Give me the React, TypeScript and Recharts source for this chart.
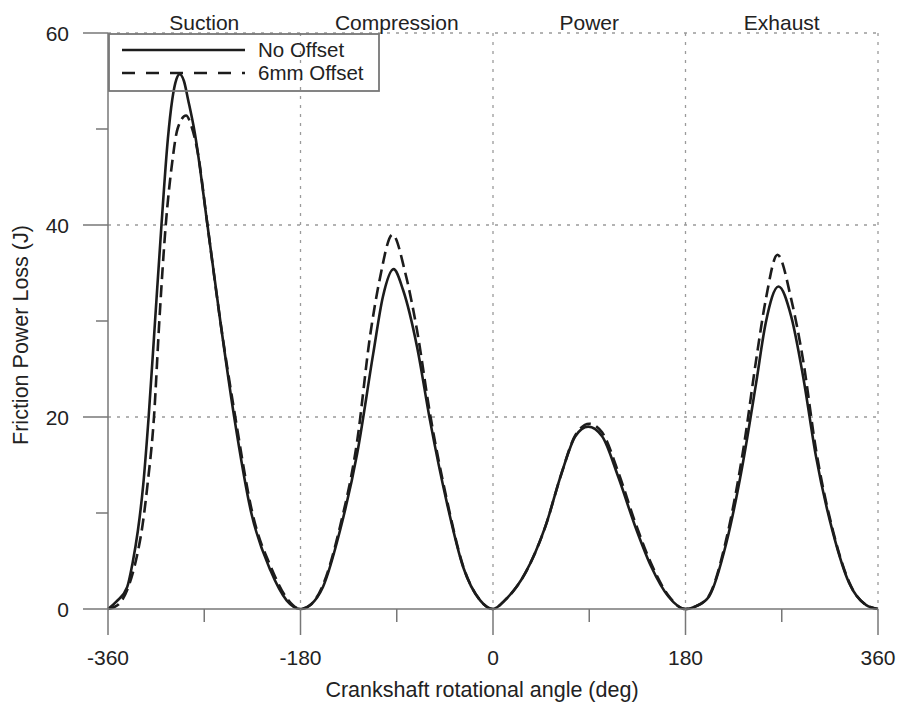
import {
  CartesianGrid,
  Legend,
  Line,
  LineChart,
  ReferenceLine,
  XAxis,
  YAxis,
} from "recharts";

// crank angle (deg) / friction power loss (J)
const ANGLE_NO_OFFSET = [
  -360, -352, -342, -337, -332, -327, -322, -316, -310, -304, -300, -296, -293,
  -289, -285, -279, -267, -255, -242, -226, -208, -193, -180, -170, -159, -143,
  -127, -112, -103, -93, -84, -71, -59, -43, -28, -12, 0, 11, 30, 49, 64, 77,
  89, 102, 117, 133, 148, 164, 180, 190, 202, 218, 233, 246, 255, 267, 279, 290,
  302, 318, 333, 349, 360,
];
const LOSS_NO_OFFSET = [
  0, 0.8, 2.3, 4.8, 8.2, 13, 20, 30, 40, 49, 53, 55.2, 55.7, 55, 53, 49.7, 40,
  30, 20, 10, 4, 0.9, 0, 0.5, 2.3, 8.2, 16.2, 26.6, 32.5, 35.4, 33.2, 27.3, 19.7,
  11, 4.4, 0.9, 0, 0.9, 3.7, 8.6, 14.1, 18, 19, 18, 13.8, 8.6, 4.4, 1.3, 0, 0.3,
  1.3, 6.8, 14.8, 23.5, 29.8, 33.6, 30.4, 24.2, 15.9, 7.9, 2.7, 0.4, 0,
];

const ANGLE_OFFSET = [
  -360, -350, -341, -333, -328, -323, -317, -312, -306, -300, -295, -287, -282,
  -276, -267, -255, -241, -225, -207, -192, -180, -170, -159, -143, -127, -115,
  -106, -94, -82, -71, -59, -43, -28, -12, 0, 11, 30, 49, 64, 77, 90, 102, 117,
  133, 148, 164, 180, 190, 202, 218, 235, 246, 255, 266, 279, 290, 302, 318,
  333, 349, 360,
];
const LOSS_OFFSET = [
  0, 0.5, 2.3, 5.5, 8.5, 13, 20, 30, 40, 46.5, 50, 51.4, 50.3, 47.5, 40, 30, 20,
  10, 4.2, 1, 0, 0.5, 2.5, 8.6, 17.5, 28.4, 34.3, 39, 35, 29, 20.4, 11.3, 4.5,
  0.9, 0, 0.9, 3.7, 8.6, 14.1, 18.1, 19.3, 18.4, 14.3, 9, 4.7, 1.4, 0, 0.3, 1.4,
  7.2, 17.3, 25.9, 32.2, 36.9, 32.2, 25.9, 16.6, 8.1, 2.8, 0.4, 0,
];

const PHASES = ["Suction", "Compression", "Power", "Exhaust"];
const PHASE_CENTERS = [-270, -90, 90, 270];
const X_TICKS = [-360, -270, -180, -90, 0, 90, 180, 270, 360];
const Y_TICKS = [0, 10, 20, 30, 40, 50, 60];

const noOffset = ANGLE_NO_OFFSET.map((angle, i) => ({ angle, loss: LOSS_NO_OFFSET[i] }));
const offset = ANGLE_OFFSET.map((angle, i) => ({ angle, loss: LOSS_OFFSET[i] }));

const FONT = '"Liberation Sans", Arial, sans-serif';
const INK = "#222";
const AXIS = "#777";
const LINE = "#1c1c1c";

function XTick({ x, y, payload }: any) {
  const major = payload.value % 180 === 0;
  return (
    <g>
      <line x1={x} x2={x} y1={y} y2={y + (major ? 26 : 13)} stroke={AXIS} strokeWidth={1.5} />
      {major && (
        <text x={x} y={y + 56} textAnchor="middle" fontSize={21} fontFamily={FONT} fill={INK}>
          {payload.value}
        </text>
      )}
    </g>
  );
}

function YTick({ x, y, payload }: any) {
  const major = payload.value % 20 === 0;
  return (
    <g>
      <line x1={x - (major ? 25 : 12)} x2={x} y1={y} y2={y} stroke={AXIS} strokeWidth={1.5} />
      {major && (
        <text x={x - 39} y={y + 7.5} textAnchor="end" fontSize={21} fontFamily={FONT} fill={INK}>
          {payload.value}
        </text>
      )}
    </g>
  );
}

function PhaseLabel({ viewBox, text }: any) {
  return (
    <text x={viewBox.x} y={viewBox.y - 3} textAnchor="middle" fontSize={21} fontFamily={FONT} fill={INK}>
      {text}
    </text>
  );
}

function XTitle({ viewBox }: any) {
  const { x, y, width } = viewBox;
  return (
    <text x={x + width / 2 - 11} y={y + 88} textAnchor="middle" fontSize={21.5} fontFamily={FONT} fill={INK}>
      Crankshaft rotational angle (deg)
    </text>
  );
}

function YTitle({ viewBox }: any) {
  const { x, y, height } = viewBox;
  const cx = x + 28;
  const cy = y + height / 2 + 14;
  return (
    <text
      x={cx}
      y={cy}
      transform={`rotate(-90 ${cx} ${cy})`}
      textAnchor="middle"
      fontSize={21.5}
      fontFamily={FONT}
      fill={INK}
    >
      Friction Power Loss (J)
    </text>
  );
}

function LegendBox() {
  return (
    <svg width={272} height={59} style={{ display: "block" }}>
      <rect x={1} y={1} width={270} height={57} fill="none" stroke={AXIS} strokeWidth={1.8} />
      <line x1={14} x2={137} y1={17} y2={17} stroke={LINE} strokeWidth={2.4} />
      <text x={150} y={24} fontSize={20.5} fontFamily={FONT} fill={INK}>
        No Offset
      </text>
      <line x1={14} x2={137} y1={40} y2={40} stroke={LINE} strokeWidth={2.4} strokeDasharray="13 11" />
      <text x={150} y={47} fontSize={20.5} fontFamily={FONT} fill={INK}>
        6mm Offset
      </text>
    </svg>
  );
}

export default function App() {
  return (
    <div style={{ position: "absolute", left: 0, top: 0, width: 900, height: 704, background: "#fff" }}>
      <LineChart width={900} height={704} margin={{ top: 33, right: 22, bottom: 0, left: 0 }}>
        <CartesianGrid
          horizontalValues={[20, 40, 60]}
          verticalValues={[-180, 0, 180, 360]}
          stroke="#9a9a9a"
          strokeWidth={1.3}
          strokeDasharray="3 6"
        />
        <XAxis
          dataKey="angle"
          type="number"
          domain={[-360, 360]}
          ticks={X_TICKS}
          interval={0}
          height={95}
          axisLine={{ stroke: AXIS, strokeWidth: 1.5 }}
          tickLine={false}
          tickSize={0}
          tickMargin={0}
          tick={<XTick />}
          label={<XTitle />}
        />
        <YAxis
          type="number"
          domain={[0, 60]}
          ticks={Y_TICKS}
          interval={0}
          width={108}
          axisLine={{ stroke: AXIS, strokeWidth: 1.5 }}
          tickLine={false}
          tickSize={0}
          tickMargin={0}
          tick={<YTick />}
          label={<YTitle />}
        />
        {PHASE_CENTERS.map((c, i) => (
          <ReferenceLine key={c} x={c} stroke="none" label={<PhaseLabel text={PHASES[i]} />} />
        ))}
        <Legend
          layout="horizontal"
          verticalAlign="middle"
          align="center"
          content={<LegendBox />}
          wrapperStyle={{ left: 108, top: 33, width: 272, height: 59 }}
        />
        <Line
          data={noOffset}
          dataKey="loss"
          name="No Offset"
          type="monotone"
          stroke={LINE}
          strokeWidth={2.6}
          dot={false}
          activeDot={false}
          isAnimationActive={false}
        />
        <Line
          data={offset}
          dataKey="loss"
          name="6mm Offset"
          type="monotone"
          stroke={LINE}
          strokeWidth={2.6}
          strokeDasharray="12 6"
          dot={false}
          activeDot={false}
          isAnimationActive={false}
        />
      </LineChart>
    </div>
  );
}
